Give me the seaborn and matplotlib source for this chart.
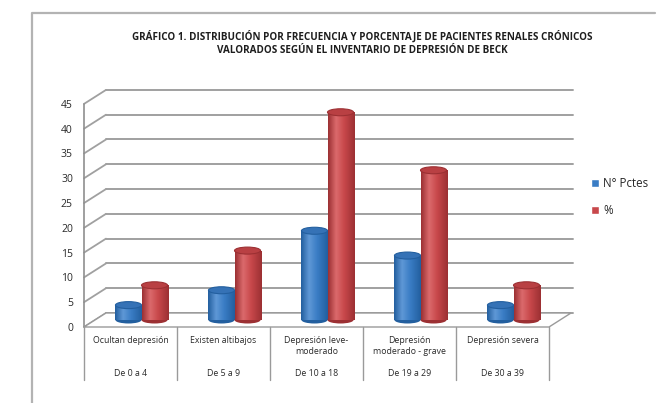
import numpy as np
import pandas as pd
import matplotlib
matplotlib.use("Agg")
import matplotlib.pyplot as plt
import matplotlib.transforms as mtransforms
from matplotlib.patches import Ellipse, Polygon
from matplotlib.lines import Line2D
from matplotlib.colors import LinearSegmentedColormap
import seaborn as sns

sns.set_style("white")
plt.rcParams["font.family"] = ["Open Sans", "DejaVu Sans"]

# ---- datos ----
categorias = ["Ocultan depresión", "Existen altibajos", "Depresión leve-\nmoderado",
              "Depresión\nmoderado - grave", "Depresión severa"]
rangos = ["De 0 a 4", "De 5 a 9", "De 10 a 18", "De 19 a 29", "De 30 a 39"]
series = ["N° Pctes", "%"]
pacientes = [3, 6, 18, 13, 3]
porcentaje = [7, 14, 41.9, 30.2, 7]
y_ticks = [0, 5, 10, 15, 20, 25, 30, 35, 40, 45]

titulo = ("GRÁFICO 1. DISTRIBUCIÓN POR FRECUENCIA Y PORCENTAJE DE PACIENTES RENALES CRÓNICOS\n"
          "VALORADOS SEGÚN EL INVENTARIO DE DEPRESIÓN DE BECK")

colores = ["#3a7dc5", "#c8484b"]
claros = ["#5f98d6", "#db6a6c"]
oscuros = ["#235f9f", "#9c3033"]
tapas = ["#3572b6", "#b94043"]

df = pd.DataFrame({
    "cat": categorias * 2,
    "serie": [series[0]] * len(categorias) + [series[1]] * len(categorias),
    "valor": pacientes + porcentaje,
})

W, H = 667, 403
fig = plt.figure(figsize=(W / 100, H / 100), dpi=100)

# plano medio de las barras
y0_px, y45_px = 320, 96.9
ax = fig.add_axes([95 / W, (H - y0_px) / H, 465 / W, (y0_px - y45_px) / H])
sns.barplot(data=df, x="cat", y="valor", hue="serie", palette=colores,
            width=0.56, saturation=1, ax=ax, legend=True)

xmin, xmax, ymax = -0.5, len(categorias) - 0.5, 45
px_y = (y0_px - y45_px) / ymax
dx = 11 / 465 * len(categorias)   # profundidad en unidades de datos
dy = 7 / px_y

grid_c = "#a0a0a0"
# pared del fondo y lateral
for v in y_ticks:
    ax.plot([xmin + dx, xmax + dx + 0.02], [v + dy, v + dy], color=grid_c, lw=1.4,
            zorder=0.4, clip_on=False)
    ax.plot([xmin - dx, xmin + dx], [v - dy, v + dy], color=grid_c, lw=1.3,
            zorder=0.4, clip_on=False)
ax.plot([xmin - dx, xmin - dx], [-dy, ymax - dy], color="#8f8f8f", lw=1.2,
        zorder=0.4, clip_on=False)

# suelo
suelo = Polygon([(xmin - dx, -dy), (xmax - dx, -dy), (xmax + dx, dy), (xmin + dx, dy)],
                closed=True, facecolor="white", edgecolor="#9a9a9a", lw=1.0,
                zorder=0.5, clip_on=False)
ax.add_patch(suelo)

# cilindros
eh = 7 / px_y
for k, cont in enumerate(ax.containers):
    cmap = LinearSegmentedColormap.from_list(
        "c%d" % k, [(0, oscuros[k]), (0.3, claros[k]), (0.6, colores[k]), (1, oscuros[k])])
    for rect in cont:
        x0, w, h = rect.get_x(), rect.get_width(), rect.get_height()
        rect.set_edgecolor("none")
        rect.set_zorder(2 + k)
        base = Ellipse((x0 + w / 2, 0), w, eh, facecolor=oscuros[k],
                       edgecolor="none", zorder=1.9 + k, clip_on=False)
        ax.add_patch(base)
        grad = np.linspace(0, 1, 60).reshape(1, -1)
        im = ax.imshow(grad, extent=[x0, x0 + w, 0, h], cmap=cmap, aspect="auto",
                       zorder=2.05 + k, interpolation="bilinear")
        im.set_clip_path(rect)
        top = Ellipse((x0 + w / 2, h), w, eh, facecolor=tapas[k],
                      edgecolor=oscuros[k], lw=0.8, zorder=2.1 + k, clip_on=False)
        ax.add_patch(top)

ax.set_xlim(xmin, xmax)
ax.set_ylim(0, ymax)
ax.set_xlabel("")
ax.set_ylabel("")
ax.set_xticks(range(len(categorias)))
ax.set_xticklabels([])
ax.tick_params(axis="x", length=0)
ax.set_yticks(y_ticks)
ax.tick_params(axis="y", length=0, pad=8, labelsize=7.5, labelcolor="#2a2a2a")
sns.despine(ax=ax, left=True, bottom=True)
ax.patch.set_alpha(0)
desplazo = mtransforms.ScaledTranslation(-11 / 100, -7 / 100, fig.dpi_scale_trans)
for lbl in ax.get_yticklabels():
    lbl.set_transform(lbl.get_transform() + desplazo)

# tabla de categorías
y_fondo = (y0_px - 380) / px_y
for i in range(len(categorias) + 1):
    xb = xmin + i - dx
    ax.plot([xb, xb], [-dy, y_fondo], color="#9a9a9a", lw=1.0, clip_on=False)
for i, (c, r) in enumerate(zip(categorias, rangos)):
    ax.text(i - dx, (y0_px - 336) / px_y, c, ha="center", va="top", fontsize=6.3,
            color="#2a2a2a", linespacing=1.25, clip_on=False)
    ax.text(i - dx, (y0_px - 374) / px_y, r, ha="center", va="center", fontsize=6.3,
            color="#2a2a2a", clip_on=False)

# leyenda
handles, labels = ax.get_legend_handles_labels()
ax.legend(handles, labels, loc="center left", bbox_to_anchor=(581 / W, 1 - 197 / H),
          bbox_transform=fig.transFigure, frameon=False, fontsize=8.3,
          handlelength=0.7, handleheight=0.7, handletextpad=0.3, labelspacing=1.25)

# título y borde
fig.text(362 / W, 1 - 43.5 / H, titulo, ha="center", va="center", fontsize=7.1,
         fontweight="bold", color="#1e1e1e", linespacing=1.25)
fig.lines.append(Line2D([32 / W, 32 / W, 655 / W], [0, 1 - 13 / H, 1 - 13 / H],
                        transform=fig.transFigure, color="#b3b3b3", lw=1.6))

fig.savefig("out.png", dpi=100)
